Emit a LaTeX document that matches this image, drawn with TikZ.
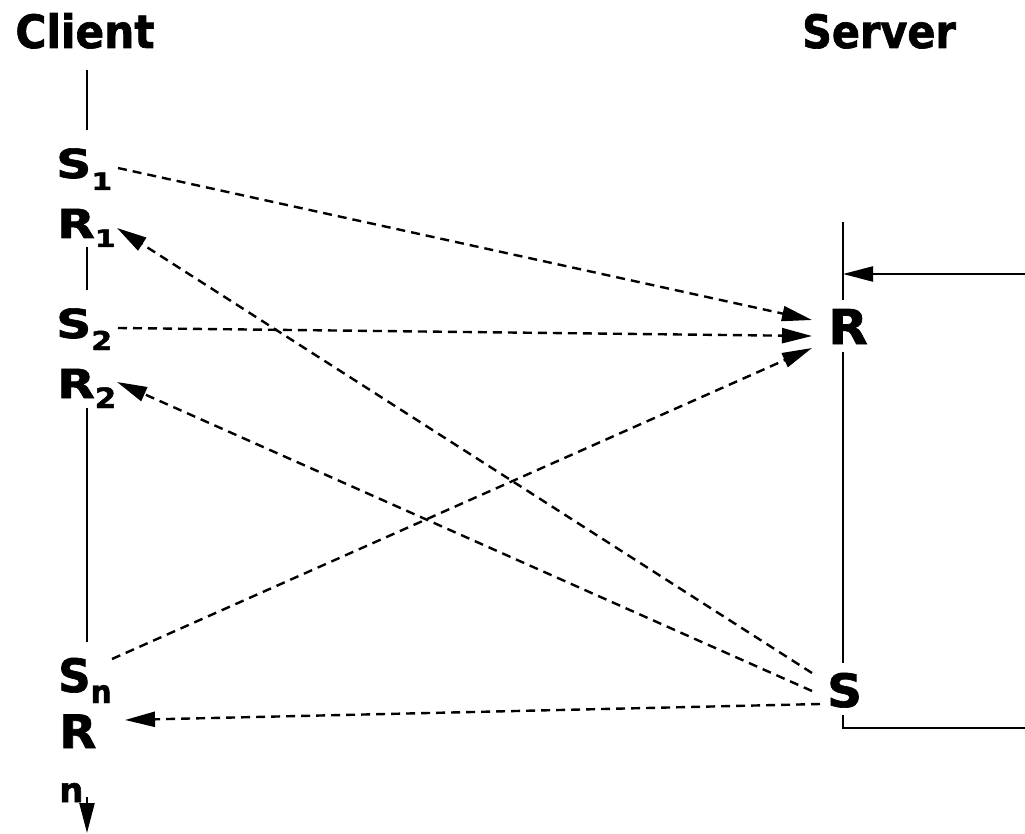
\documentclass[tikz,border=0pt]{standalone}
\usepackage{fontspec}
\usepackage{graphicx}
\setmainfont{DejaVu Sans}[BoldFeatures={FakeBold=1.5}]
\usetikzlibrary{arrows.meta}
\newcommand\lbl[3]{\scalebox{#2}[1]{\fontsize{#1}{#1}\selectfont #3}}
% letter with subscript: size, xscale, letter, subsize, subxscale, sub, kern, drop
\newcommand\lsub[8]{\lbl{#1}{#2}{#3}\kern#7\raisebox{-#8}{\lbl{#4}{#5}{#6}}}
\tikzset{
  title/.style={font=\bfseries, inner sep=0pt, anchor=base},
  lab/.style={font=\bfseries, inner sep=0pt, anchor=base west},
  life/.style={line width=2.2pt},
  msg/.style={line width=2.4pt, dash pattern=on 9pt off 6pt,
    -{Triangle[length=30pt,width=15pt]}},
  solidarr/.style={line width=2.2pt, -{Triangle[length=30pt,width=15pt]}}
}
\begin{document}
\begin{tikzpicture}[x=1pt,y=-1pt]
\useasboundingbox (0,0) rectangle (1025,834);
% titles
\node[title] (client) at (85,48) {\lbl{46}{0.92}{Client}};
\node[title] (server) at (879,48) {\lbl{46}{0.9}{Server}};
% client labels
\node[lab] (S1) at (56,178) {\lsub{40}{1.22}{S}{24}{1.25}{1}{0pt}{12pt}};
\node[lab] (R1) at (57,238) {\lsub{40}{1.22}{R}{24}{1.25}{1}{0pt}{9pt}};
\node[lab] (S2) at (56,338) {\lsub{40}{1.22}{S}{26}{1.15}{2}{0pt}{12pt}};
\node[lab] (R2) at (57,398) {\lsub{40}{1.22}{R}{28}{1.1}{2}{0pt}{10pt}};
\node[lab] (Sn) at (58,692) {\lsub{46}{0.98}{S}{32}{0.92}{n}{0pt}{11pt}};
\node[lab] (Rn) at (59,748) {\lbl{46}{1.05}{R}};
\node[lab] (Rns) at (59,802) {\lbl{34}{1.0}{n}};
% server labels
\node[lab] (SR) at (828,344) {\lbl{48}{1.07}{R}};
\node[lab] (SS) at (827,707) {\lbl{46}{1.05}{S}};
% client lifeline
\coordinate (c0) at (87,70);
\coordinate (c1) at (87,130);
\coordinate (c2) at (87,247);
\coordinate (c3) at (87,290);
\coordinate (c4) at (87,408);
\coordinate (c5) at (87,642);
\coordinate (c6) at (87,797);
\coordinate (c7) at (87,833);
\draw[life] (c0) -- (c1);
\draw[life] (c2) -- (c3);
\draw[life] (c4) -- (c5);
\draw[solidarr] (c6) -- (c7);
% server lifeline
\coordinate (v0) at (843,222);
\coordinate (v1) at (843,300);
\coordinate (v2) at (843,352);
\coordinate (v3) at (843,663);
\coordinate (v4) at (843,715);
\coordinate (v5) at (843,728);
\coordinate (v6) at (1025,728);
\coordinate (in0) at (1025,274);
\coordinate (in1) at (843,274);
\draw[life] (v0) -- (v1);
\draw[life] (v2) -- (v3);
\draw[life] (v4) -- (v5) -- (v6);
\draw[solidarr] (in0) -- (in1);
% message end points
\coordinate (S1o) at (118,168);
\coordinate (S2o) at (118,328);
\coordinate (Sno) at (112,659);
\coordinate (Ri1) at (812,320);
\coordinate (Ri2) at (812,336);
\coordinate (Ri3) at (812,348);
\coordinate (So1) at (812,673);
\coordinate (So2) at (812,691);
\coordinate (So3) at (820,704);
\coordinate (R1i) at (117,228);
\coordinate (R2i) at (117,382);
\coordinate (Rni) at (125,720);
% messages
\draw[msg] (S1o) -- (Ri1);
\draw[msg] (S2o) -- (Ri2);
\draw[msg] (Sno) -- (Ri3);
\draw[msg] (So1) -- (R1i);
\draw[msg] (So2) -- (R2i);
\draw[msg] (So3) -- (Rni);
\end{tikzpicture}
\end{document}
